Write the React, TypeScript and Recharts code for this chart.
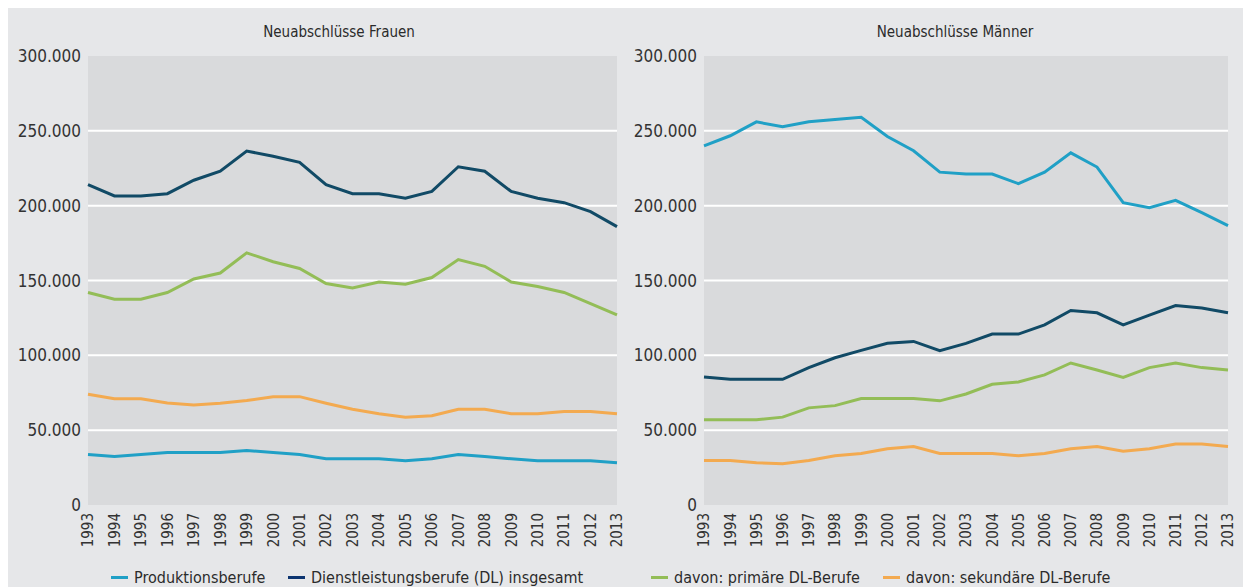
import { CartesianGrid, Line, LineChart, ReferenceLine, XAxis, YAxis } from "recharts"

const years = [
  "1993", "1994", "1995", "1996", "1997", "1998", "1999", "2000", "2001", "2002", "2003",
  "2004", "2005", "2006", "2007", "2008", "2009", "2010", "2011", "2012", "2013",
]

// Neuabschlüsse Frauen
const frauenProduktion = [33800, 32400, 33800, 35100, 35100, 35100, 36400, 35100, 33800, 30900, 30900, 30900, 29600, 30900, 33800, 32400, 30900, 29600, 29600, 29600, 28200]
const frauenDL = [214000, 206500, 206500, 208000, 217000, 223000, 236500, 233000, 229000, 214000, 208000, 208000, 205000, 209500, 226000, 223000, 209500, 205000, 202000, 196000, 186000]
const frauenPrimaer = [142000, 137500, 137500, 142000, 151000, 155000, 168500, 162500, 158000, 148000, 145000, 149000, 147500, 152000, 164000, 159500, 149000, 146000, 142000, 134500, 127000]
const frauenSekundaer = [74000, 71000, 71000, 68200, 66900, 68000, 69800, 72400, 72400, 68000, 64000, 61000, 58700, 59600, 64000, 64000, 61000, 61000, 62400, 62400, 61000]

// Neuabschlüsse Männer
const maennerProduktion = [240000, 246700, 256000, 252700, 256000, 257600, 259100, 246200, 236700, 222400, 221100, 221100, 214700, 222400, 235300, 225800, 202000, 198700, 203500, 195300, 186700]
const maennerDL = [85600, 84000, 84000, 84000, 91800, 98400, 103300, 108000, 109300, 103100, 108000, 114200, 114200, 120400, 130000, 128400, 120400, 126900, 133300, 131600, 128400]
const maennerPrimaer = [56900, 56900, 56900, 58700, 64900, 66400, 71100, 71100, 71100, 69600, 74200, 80700, 82200, 86900, 94900, 90200, 85300, 91800, 94900, 91800, 90200]
const maennerSekundaer = [29800, 29800, 28200, 27600, 29800, 32900, 34400, 37600, 39100, 34400, 34400, 34400, 32900, 34400, 37600, 39100, 36000, 37600, 40700, 40700, 39100]

const yTicks = [0, 50000, 100000, 150000, 200000, 250000, 300000]
const gridValues = [50000, 100000, 150000, 200000, 250000]

const seriesNames = [
  "Produktionsberufe",
  "Dienstleistungsberufe (DL) insgesamt",
  "davon: primäre DL-Berufe",
  "davon: sekundäre DL-Berufe",
]
const seriesColors = ["#20a0c6", "#114a66", "#93bd57", "#f3aa50"]
const legendColors = ["#20a0c6", "#0c3470", "#93bd57", "#f3aa50"]

const FONT = "'Liberation Sans Narrow', 'DejaVu Sans Condensed', 'Roboto', sans-serif"

const frauenData = years.map((year, i) => ({
  year,
  s0: frauenProduktion[i],
  s1: frauenDL[i],
  s2: frauenPrimaer[i],
  s3: frauenSekundaer[i],
}))

const maennerData = years.map((year, i) => ({
  year,
  s0: maennerProduktion[i],
  s1: maennerDL[i],
  s2: maennerPrimaer[i],
  s3: maennerSekundaer[i],
}))

const formatThousands = (v: number) => (v === 0 ? "0" : v.toLocaleString("de-DE"))

const YearTick = ({ x, y, payload }: any) => (
  <text
    x={x}
    y={y}
    transform={`rotate(-90 ${x} ${y})`}
    textAnchor="end"
    dy="0.36em"
    fill="#333"
    fontSize={15}
    fontFamily={FONT}
  >
    {payload.value}
  </text>
)

function Panel({ data, title, left, width, margin, titleX }: any) {
  return (
    <div style={{ position: "absolute", left, top: 0, width, height: 550 }}>
      <div
        style={{
          position: "absolute",
          left: titleX - 150,
          width: 300,
          top: 16,
          textAlign: "center",
          fontFamily: FONT,
          fontSize: 15,
          color: "#2b2b2b",
        }}
      >
        {title}
      </div>
      <LineChart width={width} height={550} data={data} margin={margin}>
        <CartesianGrid fill="#d9dadc" horizontal={false} vertical={false} stroke="none" />
        {gridValues.map((v) => (
          <ReferenceLine key={v} y={v} stroke="#ffffff" strokeWidth={2} />
        ))}
        <XAxis
          dataKey="year"
          interval={0}
          axisLine={false}
          tickLine={false}
          tickSize={0}
          tickMargin={8}
          height={45}
          tick={<YearTick />}
        />
        <YAxis
          domain={[0, 300000]}
          ticks={yTicks}
          axisLine={false}
          tickLine={false}
          tickSize={0}
          tickMargin={7}
          width={70}
          tickFormatter={formatThousands}
          tick={{ fill: "#333", fontSize: 17, fontFamily: FONT }}
        />
        {seriesColors.map((c, i) => (
          <Line
            key={i}
            type="linear"
            dataKey={`s${i}`}
            name={seriesNames[i]}
            stroke={c}
            strokeWidth={3}
            dot={false}
            isAnimationActive={false}
          />
        ))}
      </LineChart>
    </div>
  )
}

export default function App() {
  const legendLeft = [103, 280, 643, 875]
  return (
    <div
      style={{
        position: "relative",
        width: 1243,
        height: 580,
        marginTop: -1,
        background: "#e6e7e9",
        overflow: "hidden",
      }}
    >
      <Panel
        data={frauenData}
        title="Neuabschlüsse Frauen"
        left={0}
        width={620}
        titleX={331}
        margin={{ top: 49, right: 11, bottom: 7, left: 10 }}
      />
      <Panel
        data={maennerData}
        title="Neuabschlüsse Männer"
        left={612}
        width={628}
        titleX={335}
        margin={{ top: 49, right: 20, bottom: 7, left: 14 }}
      />
      {seriesNames.map((name, i) => (
        <div
          key={name}
          style={{
            position: "absolute",
            left: legendLeft[i],
            top: 561,
            display: "flex",
            alignItems: "center",
            fontFamily: FONT,
            fontSize: 16,
            color: "#2b2b2b",
          }}
        >
          <span style={{ display: "inline-block", width: 17, height: 3, background: legendColors[i], marginRight: 6 }} />
          {name}
        </div>
      ))}
    </div>
  )
}
